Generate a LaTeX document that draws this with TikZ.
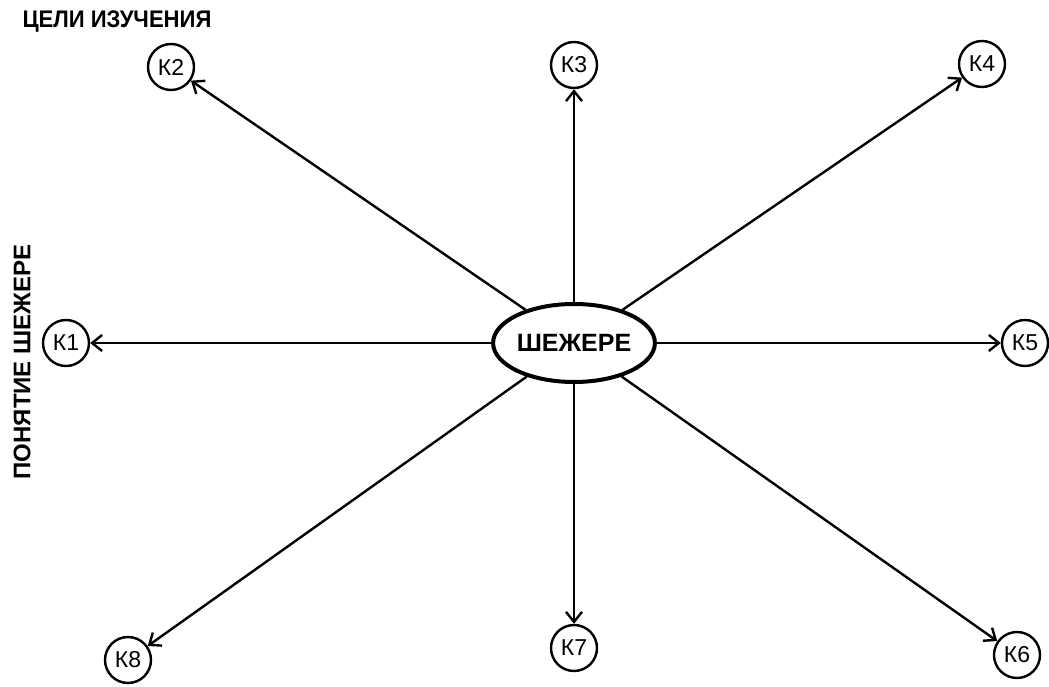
\documentclass[tikz,border=0pt]{standalone}
\usepackage{fontspec}
\setmainfont{Liberation Sans}
\newfontfamily\narrowsans[FakeStretch=0.92]{Liberation Sans}
\usetikzlibrary{shapes.geometric,arrows.meta}
\tikzset{
  goal/.style={circle,draw,line width=2.4pt,minimum size=46pt,inner sep=0pt,font=\fontsize{23}{23}\selectfont},
  link/.style={line width=2.4pt,-{Straight Barb[length=10pt,width=16pt,line width=2.4pt]}},
  heading/.style={font=\bfseries\fontsize{24}{24}\selectfont}
}
\begin{document}
\begin{tikzpicture}[x=1pt,y=1pt]
      \useasboundingbox (0,0) rectangle (1049,686);
      \coordinate (C) at (574,343);
      \coordinate (P1) at (66,343);
      \coordinate (P2) at (171,619);
      \coordinate (P3) at (574,621);
      \coordinate (P4) at (982,622);
      \coordinate (P5) at (1025,343);
      \coordinate (P6) at (1017,31);
      \coordinate (P7) at (574,38);
      \coordinate (P8) at (128,26);
      \node[ellipse,draw,line width=4pt,minimum width=154pt,minimum height=78pt,inner sep=0pt,
        font=\bfseries\fontsize{25}{25}\selectfont] (shezhere) at (C) {ШЕЖЕРЕ};
      \node[goal] (k1) at (P1) {К1};
      \node[goal] (k2) at (P2) {К2};
      \node[goal] (k3) at (P3) {К3};
      \node[goal] (k4) at (P4) {К4};
      \node[goal] (k5) at (P5) {К5};
      \node[goal] (k6) at (P6) {К6};
      \node[goal] (k7) at (P7) {К7};
      \node[goal] (k8) at (P8) {К8};
      \node[heading,font=\narrowsans\bfseries\fontsize{24}{24}\selectfont,anchor=west] (goals) at (19,664) {ЦЕЛИ ИЗУЧЕНИЯ};
      \node[heading,rotate=90] (notion) at (22,324) {ПОНЯТИЕ ШЕЖЕРЕ};
      \foreach \k in {1,...,8}
        \draw[link] (shezhere) -- (k\k);
    \end{tikzpicture}
\end{document}
